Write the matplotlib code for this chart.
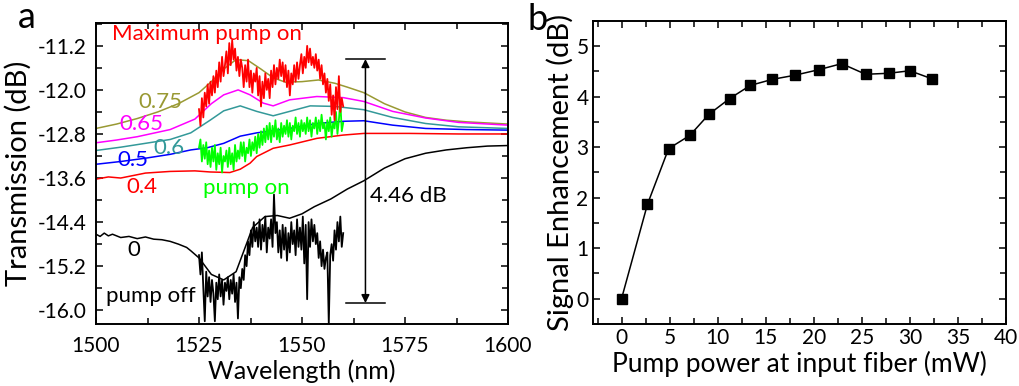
import numpy as np
import matplotlib
matplotlib.use("Agg")
import matplotlib.pyplot as plt
from matplotlib.ticker import MultipleLocator, FormatStrFormatter

plt.rcParams['font.family'] = ['Lato', 'DejaVu Sans']
plt.rcParams['axes.unicode_minus'] = False

# ---------------- Panel a data ----------------
wl_075 = [1500, 1505, 1510, 1515, 1520, 1525, 1528, 1531, 1534, 1537, 1540, 1543, 1546, 1550, 1554, 1558, 1561, 1565, 1570, 1575, 1580, 1585, 1590, 1595, 1600]
tr_075 = [-12.70, -12.62, -12.52, -12.40, -12.25, -12.05, -11.85, -11.62, -11.45, -11.47, -11.62, -11.78, -11.86, -11.85, -11.82, -11.88, -11.95, -12.05, -12.25, -12.40, -12.50, -12.55, -12.58, -12.60, -12.62]

wl_065 = [1500, 1505, 1510, 1518, 1524, 1528, 1531, 1534.5, 1537.4, 1540.6, 1543, 1547, 1553.6, 1560, 1565, 1572, 1580, 1588, 1600]
tr_065 = [-12.96, -12.91, -12.85, -12.72, -12.53, -12.25, -12.09, -12.00, -12.09, -12.24, -12.29, -12.18, -12.12, -12.14, -12.21, -12.39, -12.51, -12.59, -12.64]

wl_060 = [1500, 1506, 1512, 1518, 1523, 1527.7, 1531, 1535, 1539, 1543, 1547, 1552, 1558, 1565, 1572, 1580, 1588, 1600]
tr_060 = [-13.10, -13.04, -12.97, -12.90, -12.78, -12.55, -12.38, -12.29, -12.39, -12.47, -12.39, -12.29, -12.30, -12.36, -12.50, -12.61, -12.67, -12.70]

wl_050 = [1500, 1506, 1512, 1518, 1523, 1527, 1531, 1535, 1539, 1543, 1547, 1553.6, 1560, 1565, 1572, 1580, 1590, 1600]
tr_050 = [-13.35, -13.30, -13.24, -13.17, -13.09, -13.05, -12.97, -12.84, -12.78, -12.74, -12.70, -12.61, -12.57, -12.56, -12.64, -12.70, -12.72, -12.73]

wl_040 = [1500, 1503, 1506, 1512, 1518, 1524, 1527.7, 1532.5, 1535, 1537.4, 1539, 1543, 1547, 1553.6, 1560, 1565, 1576, 1588, 1600]
tr_040 = [-13.62, -13.58, -13.60, -13.51, -13.48, -13.47, -13.49, -13.50, -13.44, -13.33, -13.21, -13.06, -13.00, -12.88, -12.82, -12.79, -12.79, -12.80, -12.80]

wl_000 = [1500, 1501, 1502, 1503, 1504, 1506, 1508, 1510, 1512, 1514, 1516, 1518, 1520, 1522, 1523, 1525, 1528, 1531, 1534, 1536, 1538, 1541, 1544, 1547, 1550, 1553, 1557, 1561, 1565, 1570, 1575, 1580, 1585, 1590, 1595, 1600]
tr_000 = [-14.62, -14.66, -14.60, -14.65, -14.62, -14.68, -14.66, -14.70, -14.67, -14.71, -14.72, -14.75, -14.80, -14.86, -14.92, -15.05, -15.35, -15.45, -15.30, -14.90, -14.50, -14.30, -14.28, -14.33, -14.25, -14.12, -13.98, -13.80, -13.65, -13.42, -13.25, -13.15, -13.09, -13.05, -13.02, -13.01]

# noisy traces, sampled from 1525 nm to 1560 nm (101 samples)
noisy_start, noisy_stop = 1525.0, 1560.0
tr_max_pump = [
    -12.35, -12.65, -12.15, -12.50, -12.05, -12.30, -11.90, -12.25, -11.85, -12.10,
    -11.75, -12.05, -11.65, -11.95, -11.50, -11.85, -11.40, -11.75, -11.55, -11.30,
    -11.70, -11.15, -11.55, -11.10, -11.45, -11.25, -11.65, -11.40, -11.75, -11.45,
    -11.60, -11.95, -11.55, -11.85, -11.45, -11.95, -11.65, -12.05, -11.70, -11.85,
    -11.60, -12.10, -11.75, -12.30, -11.85, -12.15, -11.70, -12.00, -11.80, -12.15,
    -11.65, -11.95, -11.55, -11.90, -11.60, -11.80, -11.45, -11.75, -11.50, -11.85,
    -11.55, -11.95, -11.65, -12.10, -11.70, -11.90, -11.55, -11.85, -11.50, -11.80,
    -11.55, -11.35, -11.70, -11.40, -11.60, -11.20, -11.50, -11.25, -11.55, -11.40,
    -11.60, -11.35, -11.65, -11.45, -11.80, -11.55, -11.90, -11.70, -12.05, -11.80,
    -12.20, -11.90, -12.45, -12.10, -12.55, -11.95, -12.35, -11.75, -12.40, -12.15, -12.30]
tr_pump_on = [
    -13.05, -12.90, -13.30, -13.00, -13.25, -12.95, -13.35, -13.10, -13.40, -13.05,
    -13.30, -13.00, -13.45, -13.15, -13.35, -13.05, -13.50, -13.20, -13.30, -13.10,
    -13.40, -13.05, -13.35, -13.15, -13.45, -13.00, -13.30, -13.10, -13.25, -12.95,
    -13.20, -12.95, -13.30, -13.05, -13.15, -12.90, -13.20, -12.95, -13.10, -12.85,
    -13.15, -12.80, -13.05, -12.75, -13.00, -12.70, -12.95, -12.65, -12.90, -12.60,
    -12.95, -12.65, -12.85, -12.55, -12.90, -12.70, -12.95, -12.60, -12.85, -12.65,
    -12.80, -12.55, -12.85, -12.60, -12.90, -12.65, -12.75, -12.50, -12.80, -12.60,
    -12.85, -12.55, -12.75, -12.60, -12.80, -12.50, -12.75, -12.55, -12.85, -12.60,
    -12.70, -12.50, -12.80, -12.55, -12.75, -12.45, -12.70, -12.60, -12.90, -12.55,
    -12.75, -12.50, -12.85, -12.60, -12.70, -12.40, -12.80, -12.55, -12.20, -12.75, -12.60]
tr_pump_off = [
    -15.00, -15.35, -14.95, -15.60, -16.20, -15.30, -15.75, -15.40, -15.85, -15.45,
    -15.70, -16.20, -15.50, -15.80, -15.35, -15.75, -15.45, -15.90, -15.50, -15.65,
    -15.40, -15.80, -15.45, -15.70, -15.35, -15.85, -15.50, -16.15, -15.40, -15.60,
    -15.25, -15.45, -15.00, -15.20, -14.75, -15.00, -14.55, -14.85, -14.40, -14.75,
    -14.50, -14.85, -14.35, -14.90, -14.45, -14.75, -14.30, -14.95, -14.50, -14.70,
    -14.35, -14.85, -13.90, -14.60, -14.40, -14.95, -14.55, -15.05, -14.45, -14.90,
    -14.50, -15.10, -14.60, -14.95, -14.40, -14.80, -14.55, -15.00, -14.35, -14.85,
    -14.50, -14.90, -14.30, -15.15, -14.45, -15.80, -14.40, -14.85, -14.35, -14.75,
    -14.45, -14.80, -14.60, -15.05, -14.75, -15.20, -14.90, -15.25, -15.05, -14.95,
    -16.25, -15.00, -14.80, -15.10, -14.55, -14.90, -14.40, -14.75, -14.30, -14.85, -14.60]

enh_top, enh_bottom = -11.44, -15.87
enh_label = "4.46 dB"

# ---------------- Panel b data ----------------
pump_mw = [0, 2.7, 4.9, 7.1, 9.1, 11.25, 13.4, 15.7, 18.0, 20.5, 22.9, 25.4, 27.8, 30.0, 32.3]
enhancement_db = [0, 1.87, 2.97, 3.23, 3.65, 3.96, 4.22, 4.34, 4.42, 4.53, 4.65, 4.44, 4.46, 4.51, 4.35]

# ---------------- Figure ----------------
fig = plt.figure(figsize=(10.2, 3.86), dpi=100)
axa = fig.add_axes([96/1020, 1-324/386, (508-96)/1020, (324-22.7)/386])
axb = fig.add_axes([592.7/1020, 1-324/386, (1006-592.7)/1020, (324-20.7)/386])

c_olive, c_mag, c_teal, c_blue, c_red, c_green = '#999933', '#ff00ff', '#339999', '#0000ff', '#ff0000', '#00ff00'

lw = 1.1
axa.plot(wl_075, tr_075, color=c_olive, lw=lw)
axa.plot(wl_065, tr_065, color=c_mag, lw=lw)
axa.plot(wl_060, tr_060, color=c_teal, lw=lw)
axa.plot(wl_050, tr_050, color=c_blue, lw=lw)
axa.plot(wl_040, tr_040, color=c_red, lw=lw)
axa.plot(wl_000, tr_000, color='black', lw=lw)

wl_noisy = np.linspace(noisy_start, noisy_stop, len(tr_max_pump))
axa.plot(wl_noisy, tr_pump_off, color='black', lw=1.3)
axa.plot(wl_noisy, tr_pump_on, color=c_green, lw=1.3)
axa.plot(wl_noisy, tr_max_pump, color=c_red, lw=1.3)

# enhancement arrow
xa = 1565.4
axa.annotate('', xy=(xa, enh_top), xytext=(xa, enh_bottom),
             arrowprops=dict(arrowstyle='<|-|>', color='black', lw=1.1,
                             shrinkA=0, shrinkB=0, mutation_scale=12))
axa.plot([1560.8, 1570.1], [enh_top, enh_top], color='black', lw=1.1)
axa.plot([1560.8, 1570.1], [enh_bottom, enh_bottom], color='black', lw=1.1)

fs_lab = 16
axa.text(1503.9, -11.10, "Maximum pump on", color=c_red, fontsize=fs_lab, ha='left', va='baseline')
axa.text(1515.7, -12.33, "0.75", color=c_olive, fontsize=fs_lab, ha='center', va='baseline')
axa.text(1510.9, -12.73, "0.65", color=c_mag, fontsize=fs_lab, ha='center', va='baseline')
axa.text(1517.7, -13.16, "0.6", color=c_teal, fontsize=fs_lab, ha='center', va='baseline')
axa.text(1508.9, -13.39, "0.5", color=c_blue, fontsize=fs_lab, ha='center', va='baseline')
axa.text(1511.1, -13.88, "0.4", color=c_red, fontsize=fs_lab, ha='center', va='baseline')
axa.text(1536.6, -13.89, "pump on", color=c_green, fontsize=fs_lab, ha='center', va='baseline')
axa.text(1566.5, -14.03, enh_label, color='black', fontsize=fs_lab, ha='left', va='baseline')
axa.text(1509.1, -15.02, "0", color='black', fontsize=fs_lab, ha='center', va='baseline')
axa.text(1502.4, -15.85, "pump off", color='black', fontsize=fs_lab, ha='left', va='baseline')

axa.set_xlim(1500, 1600)
axa.set_ylim(-16.25, -10.78)
axa.xaxis.set_major_locator(MultipleLocator(25))
axa.xaxis.set_minor_locator(MultipleLocator(12.5))
axa.yaxis.set_major_locator(MultipleLocator(0.8))
axa.yaxis.set_minor_locator(MultipleLocator(0.4))
axa.yaxis.set_major_formatter(FormatStrFormatter('%.1f'))
axa.set_yticks([-16.0, -15.2, -14.4, -13.6, -12.8, -12.0, -11.2])
axa.set_xlabel("Wavelength (nm)", fontsize=18, labelpad=2)
axa.set_ylabel("Transmission (dB)", fontsize=21, labelpad=4)
axa.tick_params(axis='x', which='major', pad=9)
axa.tick_params(axis='y', which='major', pad=7)

axb.plot(pump_mw, enhancement_db, color='black', lw=1.1, marker='s', markersize=6.5)
axb.set_xlim(-3, 40)
axb.set_ylim(-0.5, 5.5)
axb.xaxis.set_major_locator(MultipleLocator(5))
axb.xaxis.set_minor_locator(MultipleLocator(2.5))
axb.yaxis.set_major_locator(MultipleLocator(1))
axb.yaxis.set_minor_locator(MultipleLocator(0.5))
axb.set_xlabel("Pump power at input fiber (mW)", fontsize=19, labelpad=2)
axb.set_ylabel("Signal Enhancement (dB)", fontsize=21, labelpad=2)
axb.tick_params(axis='both', which='major', pad=3)

for ax in (axa, axb):
    ax.tick_params(axis='both', which='both', direction='in', top=True, right=True,
                   labelsize=15, width=1.1)
    ax.tick_params(which='major', length=5)
    ax.tick_params(which='minor', length=4)
    for s in ax.spines.values():
        s.set_linewidth(1.4)

fig.text(18/1020, 1-28/386, "a", fontsize=26, ha='left', va='baseline')
fig.text(527/1020, 1-30/386, "b", fontsize=26, ha='left', va='baseline')

fig.savefig("out.png", dpi=100)
